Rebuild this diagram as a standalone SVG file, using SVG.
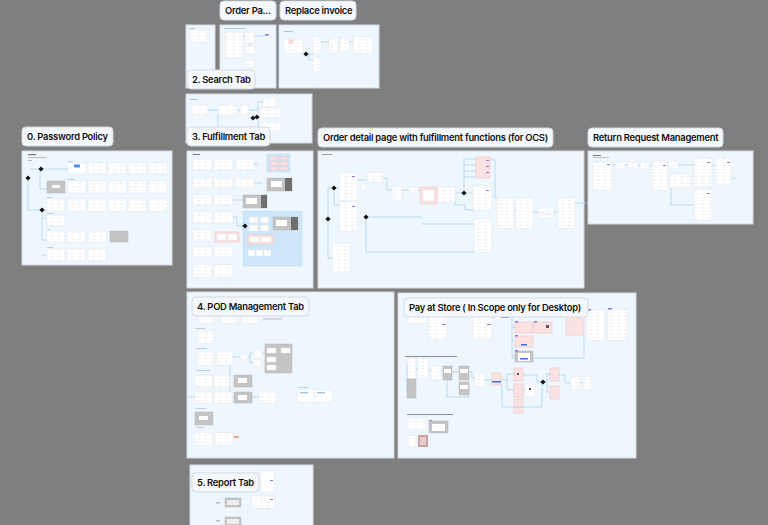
<svg xmlns="http://www.w3.org/2000/svg" width="768" height="525" viewBox="0 0 768 525">
<style>
.fr{fill:#eef7fe;stroke:#d3dce3;stroke-width:1}
.lb{fill:#f4f8fb;stroke:#d3dbe1;stroke-width:1}
.lt{font-family:Inter,"Noto Sans",sans-serif;font-weight:600;font-size:9.4px;letter-spacing:-0.25px;fill:#111}
.c{fill:url(#tx);stroke:#e3e8ec;stroke-width:.5}
.w{fill:#fff;stroke:#e3e8ec;stroke-width:.5}
.g{fill:#c4c4c4;stroke:#b9b9b9;stroke-width:.5}
.dk{fill:#6f6f6f}
.p{fill:#fbe2e2;stroke:#f0c2c2;stroke-width:.6}
.bx{fill:#cfe6f8;stroke:#bcd9f0;stroke-width:.5}
.t{fill:#a9c6e6}
.pu{fill:#8b78e0}
.ln{fill:none;stroke:#a8cbe8;stroke-width:.7}
</style>
<defs>
<pattern id="tx" width="7" height="3.5" patternUnits="userSpaceOnUse"><rect width="7" height="3.5" fill="#fff"/><rect x="1" y="1.2" width="3.5" height=".6" fill="#e0e4e8"/></pattern>
<path id="dm" d="M0,-2.6 L2.6,0 L0,2.6 L-2.6,0Z" fill="#111"/>
</defs>
<rect width="768" height="525" fill="#7f7f7f"/>

<g id="frame-search-a">
<rect class="fr" x="186" y="25" width="29" height="63"/>
<rect class="t" x="189" y="28" width="6" height="1"/>
<rect class="c" x="190" y="30" width="18" height="12"/>
</g>
<g id="frame-order-page">
<rect class="fr" x="220" y="25" width="56" height="63"/>
<rect class="t" x="224" y="28" width="22" height="1"/>
<rect class="c" x="225" y="32" width="18" height="26"/>
<rect class="c" x="245" y="32" width="10" height="11"/>
<rect class="c" x="245" y="46" width="10" height="8"/>
<rect class="c" x="245" y="60" width="10" height="7"/>
<rect class="pu" x="265" y="34" width="4" height="1.5"/>
<path class="ln" d="M243,36 H245 M255,36 H265 M250,43 V46"/>
</g>
<g id="frame-replace-invoice">
<rect class="fr" x="279" y="25" width="100" height="63"/>
<rect class="t" x="284" y="31" width="9" height="1"/>
<rect class="c" x="284" y="39" width="19" height="14"/>
<rect class="p" x="289" y="40" width="4" height="3"/>
<rect class="c" x="313" y="37" width="8" height="16"/>
<rect class="c" x="313" y="57" width="8" height="15"/>
<rect class="c" x="329" y="38" width="9" height="15"/>
<rect class="c" x="340" y="38" width="9" height="14"/>
<rect class="c" x="353" y="37" width="20" height="16"/>
<path class="ln" d="M303,54 H313 M309,54 V60 H313 M321,42 H329 M338,42 H340 M349,42 H353"/>
<use href="#dm" x="306" y="54"/>
</g>
<g id="frame-search-tab">
<rect class="fr" x="186" y="94" width="126" height="49"/>
<rect class="t" x="190" y="99" width="8" height="1"/>
<rect class="c" x="191" y="105" width="17" height="10"/>
<rect class="c" x="218" y="105" width="19" height="10"/>
<rect class="c" x="240" y="105" width="9" height="10"/>
<rect class="c" x="263" y="98" width="14" height="9"/>
<rect class="c" x="260" y="108" width="20" height="10"/>
<rect class="c" x="260" y="122" width="20" height="9"/>
<path class="ln" d="M208,110 H218 M237,110 H240 M249,110 H258 V102 H263 M258,112 H260 M218,115 V127 M258,118 V126 H260"/>
<use href="#dm" x="253" y="118"/><use href="#dm" x="257" y="117"/>
</g>

<g id="frame-password-policy">
<rect class="fr" x="22" y="151" width="150" height="114"/>
<rect x="28" y="154" width="8" height="1.2" fill="#777"/>
<rect x="28" y="157" width="18" height=".8" fill="#aaa"/>
<rect x="28" y="160" width="4" height=".8" fill="#aaa"/>
<path class="ln" d="M30,169 H68 M40,169 V189 H47 M28,178 V210 H42 V240 H47 M42,210 H47 M42,218 H47 M42,255 H47"/>
<use href="#dm" x="41" y="169"/><use href="#dm" x="28" y="178"/><use href="#dm" x="42" y="210"/>
<rect class="w" x="68" y="163" width="18" height="11"/><rect x="74" y="164.5" width="6" height="3" fill="#4a90e2"/>
<rect class="c" x="88" y="163" width="18" height="11"/><rect class="c" x="108" y="163" width="18" height="11"/><rect class="c" x="128" y="163" width="18" height="11"/><rect class="c" x="148" y="163" width="19" height="11"/>
<rect class="g" x="47" y="181" width="18" height="12"/><rect x="52" y="185" width="8" height="3" fill="#fff"/>
<rect class="c" x="68" y="181" width="18" height="12"/><rect class="c" x="88" y="181" width="18" height="12"/><rect class="c" x="108" y="181" width="18" height="12"/><rect class="c" x="128" y="181" width="18" height="12"/><rect class="c" x="148" y="181" width="19" height="12"/>
<rect class="c" x="47" y="199" width="18" height="12"/><rect class="c" x="68" y="199" width="18" height="12"/><rect class="c" x="88" y="199" width="18" height="12"/><rect class="c" x="108" y="199" width="18" height="12"/><rect class="c" x="128" y="199" width="18" height="12"/><rect class="c" x="148" y="199" width="19" height="12"/>
<rect class="c" x="47" y="215" width="18" height="11"/>
<rect class="c" x="47" y="231" width="18" height="11"/><rect class="c" x="67" y="231" width="18" height="11"/><rect class="c" x="88" y="231" width="18" height="11"/><rect class="g" x="110" y="231" width="18" height="11"/>
<rect class="c" x="47" y="249" width="18" height="12"/><rect class="c" x="67" y="249" width="18" height="12"/><rect class="c" x="88" y="249" width="18" height="12"/>
<rect class="t" x="68" y="161" width="5" height=".8"/><rect class="t" x="68" y="179" width="7" height=".8"/><rect class="t" x="47" y="197" width="5" height=".8"/><rect class="t" x="47" y="213" width="7" height=".8"/><rect class="t" x="47" y="229" width="3" height=".8"/><rect class="t" x="47" y="247" width="6" height=".8"/>
</g>

<g id="frame-fulfillment-tab">
<rect class="fr" x="187" y="151" width="126" height="137"/>
<rect x="193" y="154" width="7" height="1" fill="#777"/>
<rect class="c" x="193" y="159" width="19" height="11"/><rect class="c" x="214" y="159" width="19" height="11"/><rect class="c" x="236" y="159" width="18" height="11"/>
<rect class="c" x="258" y="160" width="6" height="2"/><rect class="c" x="258" y="165" width="6" height="2"/>
<rect class="bx" x="267" y="154" width="23" height="18"/>
<rect class="p" x="270" y="157" width="8" height="3"/><rect class="p" x="280" y="157" width="8" height="3"/><rect class="p" x="270" y="162" width="8" height="3"/><rect class="p" x="280" y="162" width="8" height="3"/><rect class="p" x="270" y="167" width="8" height="3"/><rect class="p" x="280" y="167" width="8" height="3"/>
<rect class="c" x="193" y="178" width="19" height="10"/><rect class="c" x="214" y="178" width="19" height="10"/><rect class="c" x="236" y="178" width="18" height="10"/>
<rect class="g" x="267" y="178" width="25" height="13"/><rect class="dk" x="285" y="178" width="7" height="13"/><rect x="271" y="181" width="11" height="6" fill="#fff"/>
<rect class="c" x="193" y="195" width="19" height="10"/><rect class="c" x="214" y="195" width="19" height="10"/>
<rect class="g" x="243" y="195" width="24" height="13"/><rect class="dk" x="261" y="195" width="6" height="13"/><rect x="246" y="198" width="11" height="6" fill="#fff"/>
<rect class="bx" x="243" y="211" width="59" height="55"/>
<rect class="c" x="193" y="212" width="19" height="11"/><rect class="c" x="214" y="212" width="19" height="11"/>
<rect class="c" x="249" y="217" width="9" height="6"/><rect class="c" x="260" y="217" width="9" height="6"/><rect class="c" x="249" y="225" width="9" height="6"/><rect class="c" x="260" y="225" width="9" height="6"/>
<rect class="g" x="273" y="217" width="25" height="13"/><rect class="dk" x="291" y="217" width="7" height="13"/><rect x="276" y="220" width="11" height="6" fill="#fff"/>
<rect class="p" x="248" y="235" width="25" height="9"/><rect class="w" x="250" y="237" width="9" height="5"/><rect class="w" x="261" y="237" width="10" height="5"/>
<rect class="c" x="248" y="250" width="7" height="6"/><rect class="c" x="256" y="250" width="7" height="6"/><rect class="c" x="264" y="250" width="7" height="6"/>
<rect class="c" x="193" y="230" width="19" height="11"/>
<rect class="p" x="215" y="232" width="24" height="10"/><rect class="w" x="217" y="234" width="9" height="6"/><rect class="w" x="228" y="234" width="9" height="6"/>
<rect class="c" x="193" y="247" width="19" height="10"/><rect class="c" x="214" y="247" width="19" height="10"/>
<rect class="c" x="193" y="265" width="19" height="12"/><rect class="c" x="214" y="265" width="19" height="12"/>
<path class="ln" d="M254,164 H258 M254,183 H262 M233,200 H243 M233,217 H237 V226 H245"/>
<use href="#dm" x="245" y="226"/>
</g>

<g id="frame-order-detail">
<rect class="fr" x="318" y="151" width="266" height="137"/>
<rect x="322" y="154" width="10" height=".8" fill="#888"/>
<path class="ln" d="M328,188 V258 H332 M328,188 H339 M334,188 V205 H339 M357,180 H367 M383,178 H387 V190 H392 M402,190 H409 M418,190 H420 M437,193 H438 M455,193 H473 M464,160 V193 M455,200 V205 H465 V210 H473 M490,190 H492 M490,160 H495 V198 H497 M514,210 H516 M533,212 H538 M554,212 H558 M575,203 H613 M366,217 H422 M366,217 V252 H474 M422,224 H474"/>
<path class="ln" d="M463,159 H476 M463,165 H476 M463,171 H476 M463,177 H476"/>
<use href="#dm" x="334" y="188"/><use href="#dm" x="328" y="219"/><use href="#dm" x="366" y="217"/><use href="#dm" x="464" y="193"/>
<rect class="c" x="339" y="172" width="18" height="28"/><rect class="c" x="339" y="202" width="18" height="29"/><rect class="c" x="332" y="243" width="18" height="29"/>
<rect class="c" x="367" y="172" width="16" height="10"/><rect class="c" x="361" y="184" width="5" height="6"/>
<rect class="c" x="392" y="186" width="10" height="14"/><rect class="c" x="409" y="187" width="9" height="6"/>
<rect class="p" x="420" y="187" width="17" height="17"/><rect class="w" x="423" y="190" width="11" height="11"/>
<rect class="c" x="438" y="187" width="17" height="15"/>
<rect class="p" x="476" y="157" width="14" height="21"/>
<rect class="c" x="473" y="186" width="19" height="24"/><rect class="c" x="474" y="219" width="18" height="33"/>
<rect class="c" x="497" y="198" width="17" height="30"/><rect class="c" x="516" y="198" width="17" height="30"/>
<rect class="c" x="538" y="208" width="16" height="5"/><rect class="c" x="538" y="215" width="16" height="3"/>
<rect class="c" x="558" y="198" width="17" height="30"/>
<rect class="pu" x="352" y="176" width="3" height="1"/><rect class="pu" x="352" y="206" width="3" height="1"/><rect class="pu" x="486" y="190" width="3" height="1"/><rect class="pu" x="486" y="160" width="3" height="1"/><rect class="pu" x="486" y="166" width="3" height="1"/><rect class="pu" x="486" y="172" width="3" height="1"/>
</g>

<g id="frame-return-request">
<rect class="fr" x="588" y="151" width="165" height="73"/>
<rect x="593" y="155" width="8" height="1" fill="#777"/><rect x="593" y="157" width="16" height=".7" fill="#aaa"/>
<rect class="c" x="593" y="162" width="19" height="28"/>
<rect class="c" x="616" y="162" width="9" height="6"/><rect class="c" x="628" y="162" width="10" height="6"/><rect class="c" x="640" y="162" width="9" height="6"/>
<rect class="c" x="652" y="161" width="16" height="29"/><rect class="c" x="669" y="161" width="9" height="7"/>
<rect class="c" x="670" y="174" width="21" height="14"/>
<rect class="c" x="694" y="158" width="18" height="29"/><rect class="c" x="715" y="158" width="17" height="27"/>
<rect class="c" x="736" y="177" width="6" height="2"/>
<rect class="c" x="694" y="189" width="18" height="31"/>
<path class="ln" d="M612,165 H616 M625,165 H628 M638,165 H640 M649,165 H652 M668,165 H669 M678,165 H694 M712,165 H715 M732,178 H736 M671,188 V205 H694"/>
<rect class="pu" x="607" y="164" width="3" height="1"/><rect class="pu" x="663" y="165" width="3" height="1"/><rect class="pu" x="707" y="162" width="3" height="1"/><rect class="pu" x="727" y="162" width="3" height="1"/><rect class="pu" x="707" y="193" width="3" height="1"/>
</g>

<g id="frame-pod-management">
<rect class="fr" x="187" y="292" width="207" height="166"/>
<rect class="c" x="198" y="317" width="17" height="6"/><rect class="c" x="221" y="317" width="16" height="6"/><rect class="c" x="242" y="317" width="17" height="6"/><rect x="263" y="318" width="19" height="1.5" fill="#ccd"/>
<rect class="t" x="196" y="328" width="9" height=".8"/>
<rect class="c" x="197" y="331" width="17" height="12"/>
<rect class="t" x="196" y="348" width="11" height=".8"/>
<rect class="c" x="197" y="352" width="17" height="13"/><rect class="c" x="217" y="352" width="16" height="13"/>
<rect class="c" x="240" y="355" width="8" height="5"/><rect class="c" x="253" y="349" width="9" height="8"/><rect class="c" x="253" y="360" width="9" height="7"/>
<rect class="g" x="265" y="344" width="27" height="29"/>
<rect class="w" x="267" y="348" width="9" height="5"/><rect class="w" x="281" y="348" width="9" height="5"/><rect class="w" x="267" y="357" width="9" height="5"/><rect class="w" x="267" y="365" width="9" height="5"/>
<rect class="t" x="196" y="370" width="14" height=".8"/>
<rect class="c" x="195" y="375" width="18" height="12"/><rect class="c" x="214" y="375" width="18" height="12"/>
<rect class="g" x="234" y="375" width="18" height="12"/><rect x="238" y="378" width="9" height="5" fill="#fff"/>
<rect class="c" x="195" y="392" width="18" height="11"/><rect class="c" x="214" y="392" width="18" height="11"/>
<rect class="g" x="234" y="392" width="18" height="11"/><rect x="238" y="395" width="9" height="5" fill="#fff"/>
<rect class="c" x="259" y="392" width="18" height="11"/>
<rect class="w" x="298" y="390" width="16" height="12"/><rect class="w" x="315" y="390" width="17" height="12"/><rect class="t" x="300" y="392" width="8" height="1.5"/><rect class="t" x="317" y="392" width="8" height="1.5"/>
<rect class="t" x="298" y="387" width="10" height=".8"/>
<rect class="t" x="196" y="408" width="10" height=".8"/>
<rect class="g" x="195" y="412" width="18" height="13"/><rect x="199" y="416" width="9" height="4" fill="#fff"/>
<rect class="c" x="217" y="416" width="5" height="3"/>
<rect class="t" x="196" y="427" width="8" height=".8"/>
<rect class="c" x="195" y="433" width="18" height="12"/><rect class="c" x="215" y="433" width="18" height="12"/>
<rect x="234" y="436" width="5" height="2" fill="#f2a58f"/>
<path class="ln" d="M233,357 H240 M248,357 H250 V353 H253 M250,357 V363 H253 M262,353 H265 M230,365 V392 M232,397 H234 M252,397 H259 M189,397 H195"/>
</g>

<g id="frame-pay-at-store">
<rect class="fr" x="398" y="293" width="238" height="165"/>
<rect class="c" x="408" y="315" width="19" height="8"/><rect class="c" x="428" y="315" width="19" height="24"/><rect class="c" x="473" y="315" width="19" height="24"/>
<rect class="c" x="495" y="315" width="15" height="5"/><rect x="501" y="316.5" width="8" height="1.5" fill="#3d6fd8"/>
<rect class="pu" x="442" y="324" width="4" height="1"/><rect class="pu" x="487" y="324" width="4" height="1"/>
<path class="ln" d="M512,315 V358 H584 V335 M512,327 H515 M512,341 H515 M512,356 H515"/>
<rect class="p" x="515" y="322" width="18" height="11"/><rect class="p" x="534" y="322" width="18" height="11"/><rect x="546" y="325" width="3" height="3" fill="#555"/>
<rect class="p" x="515" y="336" width="18" height="11"/><rect x="521" y="344" width="6" height="1.5" fill="#3d6fd8"/>
<rect class="g" x="515" y="351" width="18" height="11"/><rect x="518" y="353" width="12" height="8" fill="#fff"/><rect x="520" y="358" width="8" height="1.5" fill="#3d6fd8"/>
<rect class="pu" x="515" y="321" width="3" height="1.5"/><rect class="pu" x="534" y="321" width="3" height="1.5"/><rect class="pu" x="515" y="335" width="3" height="1.5"/><rect class="pu" x="515" y="350" width="3" height="1.5"/>
<rect class="p" x="566" y="315" width="18" height="20"/>
<rect class="c" x="587" y="310" width="18" height="30"/><rect class="c" x="608" y="309" width="19" height="31"/>
<rect class="pu" x="587" y="309" width="4" height="1.5"/><rect class="pu" x="608" y="308" width="4" height="1.5"/>
<rect x="405" y="356" width="52" height=".8" fill="#777"/>
<rect class="c" x="407" y="358" width="9" height="20"/><rect class="c" x="418" y="358" width="10" height="20"/>
<rect class="g" x="407" y="379" width="9" height="19"/>
<rect class="c" x="431" y="366" width="10" height="14"/>
<rect class="g" x="443" y="366" width="9" height="14"/><rect x="444" y="369" width="7" height="4" fill="#fff"/>
<rect class="g" x="459" y="366" width="10" height="14"/><rect x="460" y="369" width="8" height="4" fill="#fff"/>
<rect class="g" x="459" y="382" width="10" height="13"/><rect x="460" y="385" width="8" height="4" fill="#fff"/>
<rect class="c" x="475" y="373" width="10" height="14"/>
<rect class="p" x="492" y="373" width="9" height="12"/><rect x="492" y="381" width="9" height="1.5" fill="#3d6fd8"/>
<rect class="p" x="514" y="368" width="9" height="13"/><rect x="517" y="373" width="2" height="2" fill="#555"/>
<rect class="p" x="514" y="384" width="9" height="13"/><rect class="w" x="525" y="384" width="10" height="13"/><rect x="529" y="388" width="2" height="2" fill="#555"/>
<rect class="p" x="514" y="399" width="9" height="14"/>
<rect class="p" x="550" y="368" width="9" height="13"/><rect class="p" x="550" y="386" width="9" height="13"/>
<rect class="c" x="571" y="377" width="9" height="13"/><rect class="c" x="583" y="377" width="9" height="13"/>
<path class="ln" d="M407,364 V392 M416,369 H418 M428,370 H431 M441,370 H443 M452,372 H459 M469,372 H472 V378 H475 M485,380 H492 M501,380 H507 V374 H514 M507,380 V390 H514 M447,380 V397 H469 V388 M502,385 V407 H542 V382 M523,390 H525 M523,375 H537 V382 H543 H547 V374 H550 M547,382 V392 H550 M559,375 H565 V383 H571 M580,383 H583"/>
<use href="#dm" x="543" y="382"/>
<rect x="407" y="414" width="46" height=".8" fill="#777"/>
<rect class="c" x="407" y="418" width="19" height="12"/><rect class="pu" x="429" y="420" width="3" height="1.5"/>
<rect class="g" x="429" y="421" width="19" height="12"/><rect x="432" y="424" width="13" height="7" fill="#fff"/>
<rect class="c" x="407" y="435" width="9" height="12"/>
<rect x="418" y="435" width="10" height="12" fill="#caa3a3"/><rect x="420" y="437" width="6" height="8" fill="#e8caca"/>
</g>

<g id="frame-report-tab">
<rect class="fr" x="190" y="465" width="123" height="64"/>
<rect class="w" x="261" y="471" width="13" height="21"/><rect class="pu" x="270" y="480" width="3" height="1"/>
<rect x="216" y="502.5" width="4" height=".8" fill="#888"/>
<rect class="g" x="225" y="498" width="16" height="9"/><rect x="227" y="500" width="12" height="5" fill="#eee"/>
<rect class="c" x="252" y="496" width="23" height="12"/><rect class="pu" x="270" y="499" width="3" height="1"/>
<rect x="216" y="520.5" width="4" height=".8" fill="#888"/>
<rect class="g" x="225" y="517" width="16" height="9"/><rect x="227" y="519" width="12" height="5" fill="#eee"/>
</g>

<g id="labels">
<g id="label-order-page"><rect class="lb" x="220" y="1" width="56" height="19" rx="4"/><text class="lt" x="225" y="14">Order Pa...</text></g>
<g id="label-replace-invoice"><rect class="lb" x="280" y="1" width="76" height="19" rx="4"/><text class="lt" x="285" y="14">Replace invoice</text></g>
<g id="label-search-tab"><rect class="lb" x="187" y="70" width="68" height="19" rx="4"/><text class="lt" x="192" y="83">2. Search Tab</text></g>
<g id="label-fulfillment-tab"><rect class="lb" x="187" y="127" width="83" height="19" rx="4"/><text class="lt" x="192" y="140">3. Fulfillment Tab</text></g>
<g id="label-password-policy"><rect class="lb" x="22" y="127" width="91" height="19" rx="4"/><text class="lt" x="27" y="140">0. Password Policy</text></g>
<g id="label-order-detail"><rect class="lb" x="318" y="128" width="235" height="19" rx="4"/><text class="lt" x="323" y="141">Order detail page with fulfillment functions (for OCS)</text></g>
<g id="label-return-request"><rect class="lb" x="588" y="128" width="135" height="19" rx="4"/><text class="lt" x="593" y="141">Return Request Management</text></g>
<g id="label-pod"><rect class="lb" x="192" y="297" width="117" height="19" rx="4"/><text class="lt" x="197" y="310">4. POD Management Tab</text></g>
<g id="label-pay-at-store"><rect class="lb" x="404" y="298" width="184" height="19" rx="4"/><text class="lt" x="409" y="311">Pay at Store ( In Scope only for Desktop)</text></g>
<g id="label-report-tab"><rect class="lb" x="192" y="473" width="67" height="19" rx="4"/><text class="lt" x="197" y="486">5. Report Tab</text></g>
</g>
</svg>
